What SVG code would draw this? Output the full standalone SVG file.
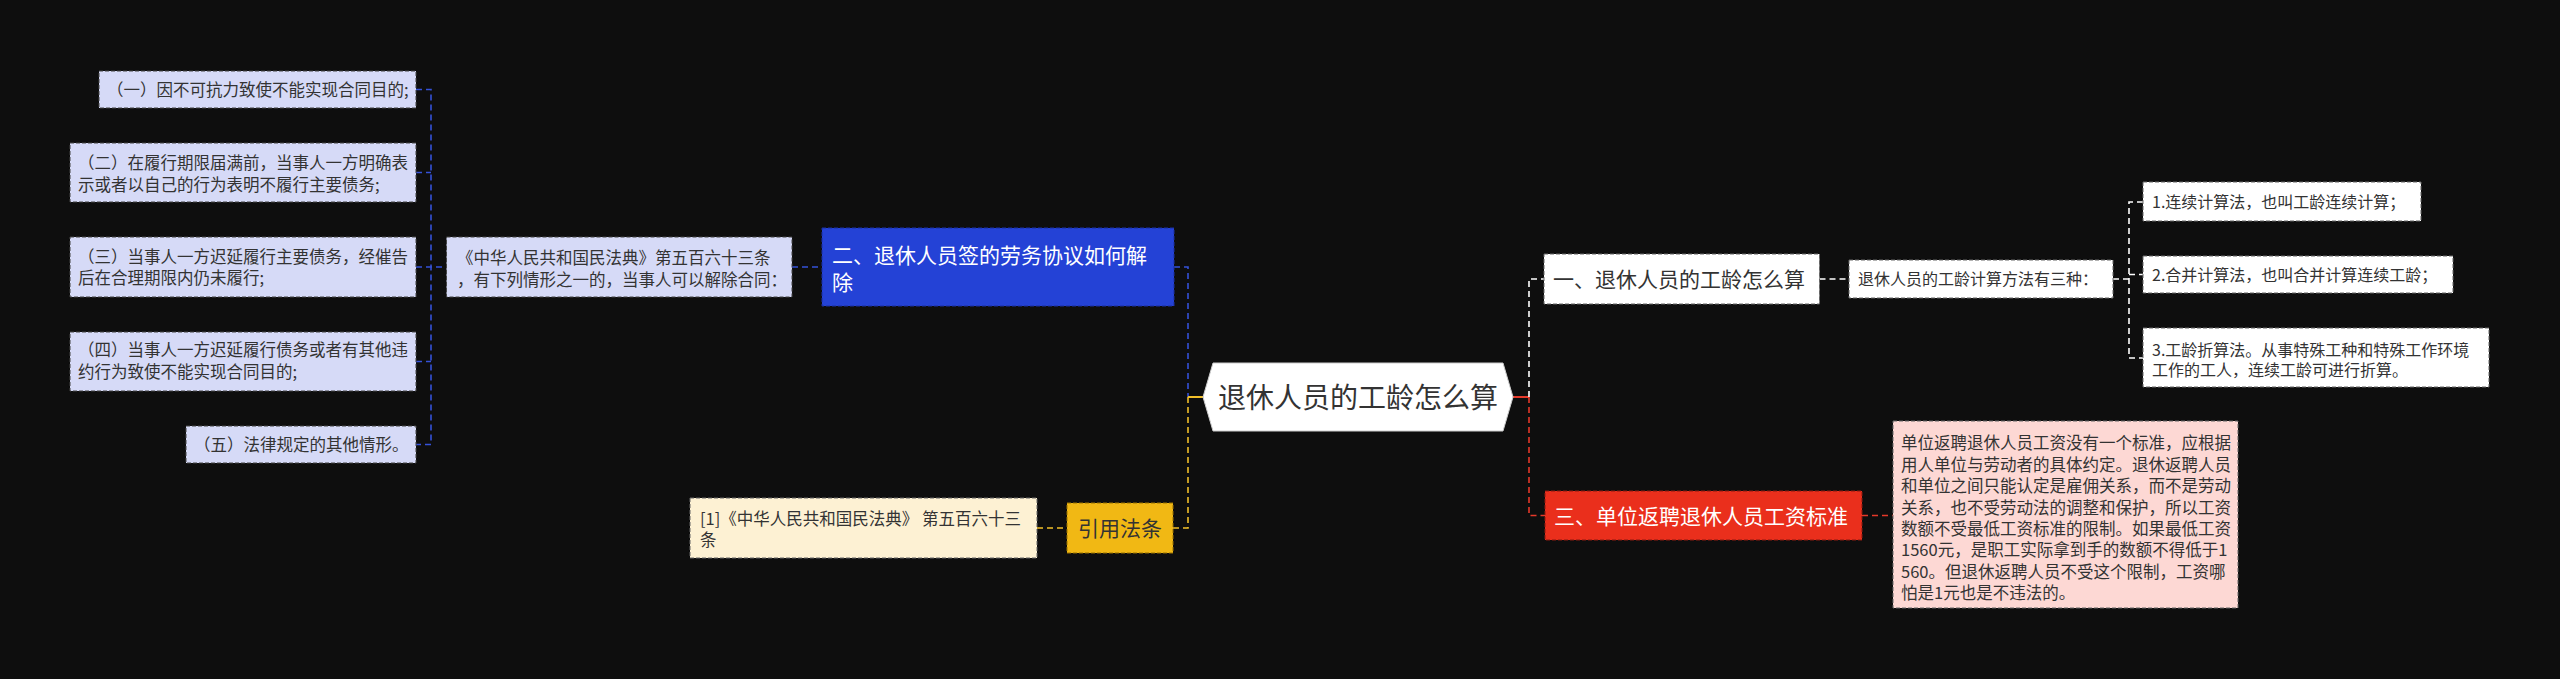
<svg xmlns="http://www.w3.org/2000/svg" width="2560" height="679" viewBox="0 0 2560 679">
<style>
text{font-family:"Noto Sans CJK SC","Noto Sans",sans-serif;}
.s{font-size:16.5px;fill:#333;}
.r{font-size:16px;fill:#333;}
.b{font-size:21px;}
.lav{fill:#d6daf7;stroke:#444;stroke-width:1;stroke-dasharray:4 2;}
.wbox{fill:#fff;stroke:#666;stroke-width:1;stroke-dasharray:4 2;}
.c{fill:none;stroke-width:1.6;stroke-dasharray:6 4;}
.cb{stroke:#3552d8;}
.cy{stroke:#f2c02a;}
.cw{stroke:#fff;}
.cr{stroke:#e5392a;}
</style>
<rect width="2560" height="679" fill="#0e0e0e"/>
<g id="connectors">
<path class="c cb" d="M416 89.5H431V444.5H416M416 172.5H431M416 267H446.5M416 361.5H431M792 267H822M1174 267H1188V397"/>
<path class="c cy" d="M1188 397V528H1173M1037 528H1067"/>
<path d="M1188 397H1203" stroke="#f2c02a" stroke-width="2"/>
<path d="M1513 397H1529" stroke="#e5392a" stroke-width="2"/>
<path class="c cw" d="M1529 397V279H1544M1819.5 279H1849M2113 279H2129M2143 202H2129V358H2143M2129 274.5H2143"/>
<path class="c cr" d="M1529 397V515.5H1545M1862 515.5H1893"/>
</g>
<g id="n-l1"><rect class="lav" x="99" y="71" width="317" height="37"/><text class="s" x="107" y="95.8">（一）因不可抗力致使不能实现合同目的;</text></g>
<g id="n-l2"><rect class="lav" x="70" y="143" width="346" height="59"/><text class="s" x="78" y="169">（二）在履行期限届满前，当事人一方明确表</text><text class="s" x="78" y="191">示或者以自己的行为表明不履行主要债务;</text></g>
<g id="n-l3"><rect class="lav" x="70" y="237" width="346" height="60"/><text class="s" x="78" y="263">（三）当事人一方迟延履行主要债务，经催告</text><text class="s" x="78" y="284">后在合理期限内仍未履行;</text></g>
<g id="n-l4"><rect class="lav" x="70" y="332" width="346" height="59"/><text class="s" x="78" y="356">（四）当事人一方迟延履行债务或者有其他违</text><text class="s" x="78" y="378">约行为致使不能实现合同目的;</text></g>
<g id="n-l5"><rect class="lav" x="186" y="426" width="230" height="37"/><text class="s" x="194" y="451">（五）法律规定的其他情形。</text></g>
<g id="n-law"><rect class="lav" x="446.5" y="237" width="345.5" height="60"/><text class="s" x="457" y="264">《中华人民共和国民法典》第五百六十三条</text><text class="s" x="457" y="286">，有下列情形之一的，当事人可以解除合同：</text></g>
<g id="n-two"><rect x="822" y="228" width="352" height="78" fill="#2442d6" stroke="#1a2ea0" stroke-dasharray="4 2"/><text class="b" x="832" y="263" fill="#fff">二、退休人员签的劳务协议如何解</text><text class="b" x="832" y="290" fill="#fff">除</text></g>
<g id="n-root"><polygon points="1203,397 1213,363 1503,363 1513,397 1503,431 1213,431" fill="#fff" stroke="#ccc" stroke-width="1"/><text x="1358" y="407.5" font-size="28" fill="#333" text-anchor="middle">退休人员的工龄怎么算</text></g>
<g id="n-cite"><rect x="1067" y="503" width="106" height="50" fill="#f1b814" stroke="#9a7200" stroke-dasharray="4 2"/><text class="b" x="1120" y="536" fill="#333" text-anchor="middle">引用法条</text></g>
<g id="n-cite1"><rect x="690" y="498" width="347" height="60" fill="#fdf1d3" stroke="#666" stroke-dasharray="4 2"/><text class="s" x="700" y="525">[1]《中华人民共和国民法典》 第五百六十三</text><text class="s" x="700" y="546">条</text></g>
<g id="n-one"><rect class="wbox" x="1544" y="254" width="275.5" height="50"/><text class="b" x="1553" y="287" fill="#333">一、退休人员的工龄怎么算</text></g>
<g id="n-three-ways"><rect class="wbox" x="1849" y="260" width="264" height="38"/><text class="r" x="1858" y="285">退休人员的工龄计算方法有三种：</text></g>
<g id="n-r1"><rect class="wbox" x="2143" y="182" width="278" height="39"/><text class="r" x="2152" y="207.5">1.连续计算法，也叫工龄连续计算；</text></g>
<g id="n-r2"><rect class="wbox" x="2143" y="256" width="310" height="37"/><text class="r" x="2152" y="280.5">2.合并计算法，也叫合并计算连续工龄；</text></g>
<g id="n-r3"><rect class="wbox" x="2143" y="328" width="346" height="59"/><text class="r" x="2152" y="356">3.工龄折算法。从事特殊工种和特殊工作环境</text><text class="r" x="2152" y="376">工作的工人，连续工龄可进行折算。</text></g>
<g id="n-three"><rect x="1545" y="491" width="317" height="49" fill="#ea2f1c" stroke="#8a1a10" stroke-dasharray="4 2"/><text class="b" x="1554" y="523.5" fill="#fff">三、单位返聘退休人员工资标准</text></g>
<g id="n-pay"><rect x="1893" y="421" width="345" height="187" fill="#fdd8d4" stroke="#666" stroke-dasharray="4 2"/>
<text class="s" x="1901" y="449.3">单位返聘退休人员工资没有一个标准，应根据</text>
<text class="s" x="1901" y="470.7">用人单位与劳动者的具体约定。退休返聘人员</text>
<text class="s" x="1901" y="492.1">和单位之间只能认定是雇佣关系，而不是劳动</text>
<text class="s" x="1901" y="513.5">关系，也不受劳动法的调整和保护，所以工资</text>
<text class="s" x="1901" y="534.9">数额不受最低工资标准的限制。如果最低工资</text>
<text class="s" x="1901" y="556.3">1560元，是职工实际拿到手的数额不得低于1</text>
<text class="s" x="1901" y="577.7">560。但退休返聘人员不受这个限制，工资哪</text>
<text class="s" x="1901" y="599.1">怕是1元也是不违法的。</text>
</g>
</svg>
